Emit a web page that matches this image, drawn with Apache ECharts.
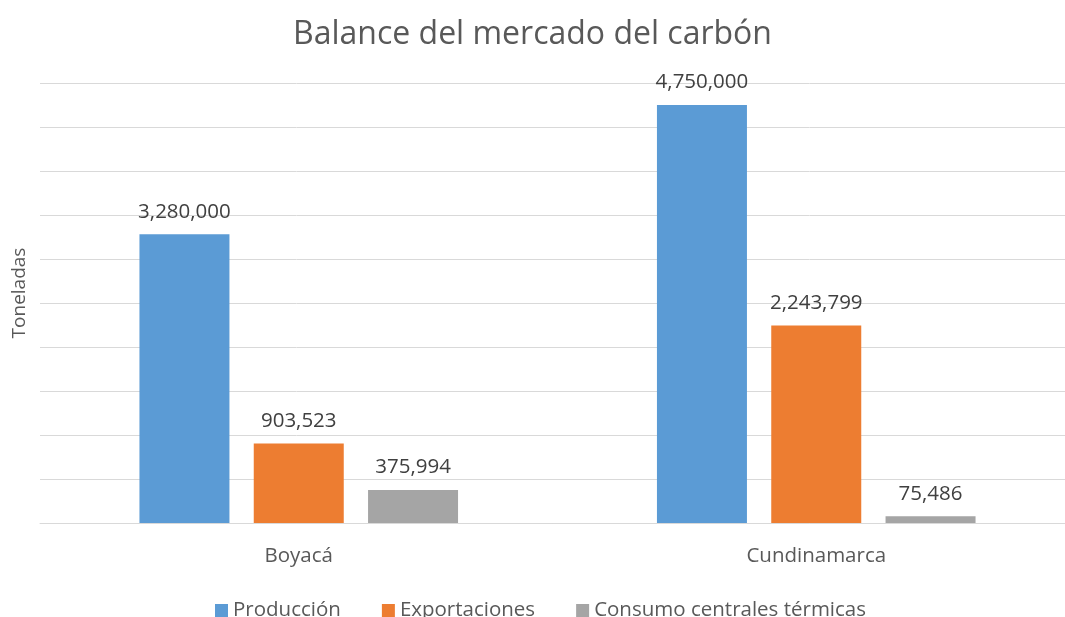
<!DOCTYPE html>
<html>
<head>
<meta charset="utf-8">
<script src="https://cdn.jsdelivr.net/npm/echarts@6/dist/echarts.min.js"></script>
<style>html,body{margin:0;padding:0;background:#fff}#c{width:1065px;height:617px}</style>
</head>
<body>
<div id="c"></div>
<script>
const categories = ['Boyacá', 'Cundinamarca'];
const seriesNames = ['Producción', 'Exportaciones', 'Consumo centrales térmicas'];
const produccion = [3280000, 4750000];
const exportaciones = [903523, 2243799];
const consumo = [375994, 75486];
const colors = ['#5B9BD5', '#ED7D31', '#A5A5A5'];
const FONT = 'Open Sans';

const chart = echarts.init(document.getElementById('c'), null, {renderer: 'canvas'});
const fmt = p => p.value.toLocaleString('en-US');
const mk = (name, data, color) => ({
  name, type: 'bar', data, barWidth: 90, barGap: '27%',
  itemStyle: {color},
  label: {show: true, position: 'top', distance: 12, formatter: fmt,
    fontFamily: FONT, fontSize: 20.5, color: '#404040'}
});
chart.setOption({
  animation: false,
  title: {text: 'Balance del mercado del carbón', left: 'center', top: 14,
    textStyle: {fontFamily: FONT, fontSize: 32, fontWeight: 'normal', color: '#595959'}},
  legend: {top: 595, left: 210, itemWidth: 13, itemHeight: 13, itemGap: 41,
    icon: 'rect',
    textStyle: {fontFamily: FONT, fontSize: 20.5, color: '#595959'}, data: seriesNames},
  grid: {left: 40, right: -10, top: 83, bottom: 94, containLabel: false, outerBoundsMode: 'none'},
  xAxis: {type: 'category', data: categories,
    axisLine: {lineStyle: {color: '#d9d9d9', width: 1}}, axisTick: {show: false},
    axisLabel: {margin: 23, fontFamily: FONT, fontSize: 20.5, color: '#595959'}},
  yAxis: {type: 'value', min: 0, max: 5000000, interval: 500000,
    name: 'Toneladas', nameLocation: 'middle', nameGap: 11, nameRotate: 90,
    nameTextStyle: {fontFamily: FONT, fontSize: 19, color: '#595959', padding: [0, 0, 0, 20]},
    axisLabel: {show: false}, axisLine: {show: false}, axisTick: {show: false},
    splitLine: {lineStyle: {color: '#d9d9d9', width: 1}}},
  series: [mk(seriesNames[0], produccion, colors[0]), mk(seriesNames[1], exportaciones, colors[1]), mk(seriesNames[2], consumo, colors[2])]
});
</script>
</body>
</html>
